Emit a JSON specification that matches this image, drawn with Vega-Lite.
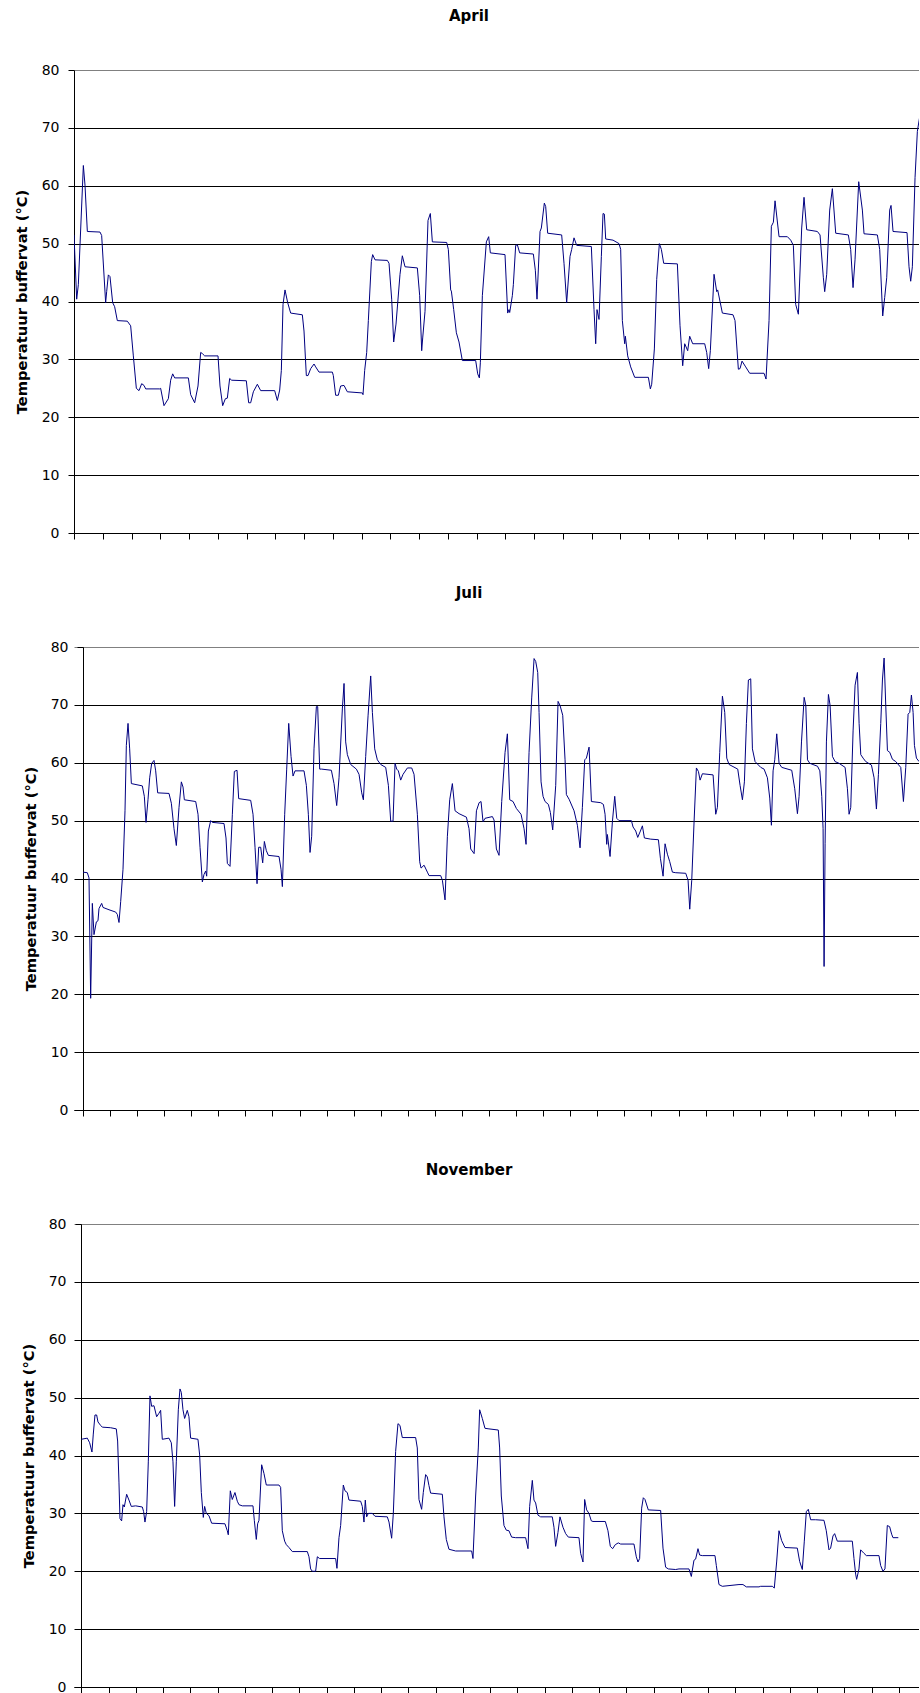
{
  "$schema": "https://vega.github.io/schema/vega-lite/v6.json",
  "padding": {"left": 14, "top": 9, "right": 0, "bottom": 0},
  "background": "white",
  "config": {
    "view": {"stroke": null},
    "font": "DejaVu Sans",
    "axis": {
      "domainColor": "#000", "tickColor": "#000", "labelColor": "#000", "titleColor": "#000",
      "labelFont": "DejaVu Sans", "labelFontSize": 14, "titleFont": "DejaVu Sans", "titleFontSize": 14.7,
      "titleFontWeight": "bold", "tickSize": 6, "domainWidth": 1, "tickWidth": 1, "gridWidth": 1
    },
    "title": {"font": "DejaVu Sans", "fontSize": 15, "fontWeight": "bold", "color": "#000", "anchor": "middle", "frame": "group", "baseline": "alphabetic", "offset": 39, "dx": -27.5}
  },
  "spacing": 46,
  "datasets": {
    "april": [
      {"d":0,"t":51.5},{"d":0.093,"t":40.4},{"d":0.151,"t":42.9},{"d":0.325,"t":63.5},{"d":0.383,"t":60.1},{"d":0.464,"t":52.1},{"d":0.904,"t":52.0},{"d":0.962,"t":51.4},{"d":1.101,"t":39.8},{"d":1.136,"t":41.7},{"d":1.194,"t":44.6},{"d":1.252,"t":44.3},{"d":1.345,"t":39.8},{"d":1.414,"t":39.1},{"d":1.507,"t":36.7},{"d":1.855,"t":36.6},{"d":1.971,"t":35.8},{"d":2.064,"t":30.6},{"d":2.168,"t":25.0},{"d":2.261,"t":24.6},{"d":2.354,"t":25.8},{"d":2.435,"t":25.5},{"d":2.493,"t":24.9},{"d":2.98,"t":24.9},{"d":3.014,"t":25.0},{"d":3.13,"t":22.0},{"d":3.281,"t":23.2},{"d":3.362,"t":26.4},{"d":3.432,"t":27.5},{"d":3.501,"t":26.8},{"d":3.977,"t":26.8},{"d":4.058,"t":23.9},{"d":4.197,"t":22.5},{"d":4.313,"t":25.4},{"d":4.406,"t":31.2},{"d":4.464,"t":31.0},{"d":4.545,"t":30.6},{"d":5.009,"t":30.6},{"d":5.078,"t":25.4},{"d":5.171,"t":22.0},{"d":5.264,"t":23.2},{"d":5.333,"t":23.3},{"d":5.414,"t":26.7},{"d":5.484,"t":26.4},{"d":5.994,"t":26.3},{"d":6.075,"t":22.5},{"d":6.145,"t":22.5},{"d":6.238,"t":24.4},{"d":6.377,"t":25.7},{"d":6.493,"t":24.6},{"d":6.98,"t":24.6},{"d":7.072,"t":22.9},{"d":7.154,"t":24.7},{"d":7.212,"t":28.1},{"d":7.27,"t":39.5},{"d":7.339,"t":42.0},{"d":7.432,"t":39.8},{"d":7.536,"t":38.0},{"d":7.942,"t":37.7},{"d":8.0,"t":34.9},{"d":8.081,"t":27.2},{"d":8.139,"t":27.2},{"d":8.232,"t":28.4},{"d":8.348,"t":29.2},{"d":8.406,"t":28.7},{"d":8.522,"t":27.8},{"d":8.986,"t":27.8},{"d":9.02,"t":27.2},{"d":9.101,"t":23.8},{"d":9.194,"t":23.8},{"d":9.275,"t":25.4},{"d":9.391,"t":25.5},{"d":9.507,"t":24.4},{"d":10.029,"t":24.2},{"d":10.052,"t":23.9},{"d":10.11,"t":28.1},{"d":10.18,"t":31.2},{"d":10.238,"t":36.7},{"d":10.342,"t":46.9},{"d":10.388,"t":48.1},{"d":10.47,"t":47.2},{"d":10.899,"t":47.1},{"d":10.957,"t":46.6},{"d":11.049,"t":40.4},{"d":11.119,"t":33.0},{"d":11.2,"t":36.1},{"d":11.339,"t":44.7},{"d":11.42,"t":47.9},{"d":11.513,"t":46.0},{"d":11.942,"t":45.8},{"d":12.023,"t":41.0},{"d":12.093,"t":31.5},{"d":12.128,"t":33.7},{"d":12.209,"t":38.3},{"d":12.313,"t":54.0},{"d":12.394,"t":55.2},{"d":12.464,"t":50.3},{"d":12.962,"t":50.2},{"d":13.02,"t":49.0},{"d":13.101,"t":42.0},{"d":13.125,"t":41.8},{"d":13.206,"t":38.6},{"d":13.299,"t":34.6},{"d":13.391,"t":33.0},{"d":13.507,"t":29.8},{"d":13.971,"t":29.8},{"d":14.041,"t":27.5},{"d":14.099,"t":26.8},{"d":14.133,"t":29.4},{"d":14.203,"t":41.0},{"d":14.342,"t":50.3},{"d":14.423,"t":51.2},{"d":14.481,"t":48.4},{"d":14.991,"t":48.1},{"d":15.084,"t":38.0},{"d":15.13,"t":38.6},{"d":15.154,"t":38.1},{"d":15.246,"t":41.0},{"d":15.281,"t":42.9},{"d":15.362,"t":49.7},{"d":15.42,"t":49.8},{"d":15.501,"t":48.4},{"d":15.977,"t":48.2},{"d":16.046,"t":45.4},{"d":16.104,"t":40.4},{"d":16.209,"t":52.1},{"d":16.255,"t":52.7},{"d":16.359,"t":57.0},{"d":16.406,"t":56.4},{"d":16.475,"t":51.8},{"d":16.962,"t":51.5},{"d":17.043,"t":46.6},{"d":17.136,"t":39.8},{"d":17.252,"t":47.8},{"d":17.31,"t":49.0},{"d":17.391,"t":51.0},{"d":17.484,"t":49.7},{"d":17.994,"t":49.5},{"d":18.087,"t":38.6},{"d":18.145,"t":32.7},{"d":18.191,"t":38.6},{"d":18.261,"t":36.9},{"d":18.342,"t":47.8},{"d":18.4,"t":55.2},{"d":18.446,"t":55.1},{"d":18.493,"t":50.8},{"d":18.748,"t":50.6},{"d":18.957,"t":50.0},{"d":19.014,"t":49.0},{"d":19.072,"t":36.7},{"d":19.154,"t":32.7},{"d":19.177,"t":34.0},{"d":19.258,"t":30.6},{"d":19.362,"t":28.7},{"d":19.501,"t":26.9},{"d":19.977,"t":26.9},{"d":20.046,"t":24.9},{"d":20.093,"t":25.7},{"d":20.186,"t":31.8},{"d":20.267,"t":43.8},{"d":20.359,"t":50.0},{"d":20.429,"t":49.0},{"d":20.51,"t":46.6},{"d":20.986,"t":46.5},{"d":21.078,"t":35.8},{"d":21.171,"t":28.9},{"d":21.241,"t":32.7},{"d":21.345,"t":31.5},{"d":21.414,"t":34.0},{"d":21.519,"t":32.7},{"d":21.936,"t":32.7},{"d":22.006,"t":31.2},{"d":22.075,"t":28.4},{"d":22.133,"t":31.5},{"d":22.261,"t":44.7},{"d":22.354,"t":41.7},{"d":22.388,"t":42.0},{"d":22.551,"t":38.0},{"d":22.922,"t":37.7},{"d":22.991,"t":36.7},{"d":23.107,"t":28.3},{"d":23.165,"t":28.4},{"d":23.235,"t":29.7},{"d":23.362,"t":28.7},{"d":23.501,"t":27.6},{"d":24.0,"t":27.6},{"d":24.07,"t":26.6},{"d":24.174,"t":36.7},{"d":24.255,"t":53.0},{"d":24.325,"t":53.7},{"d":24.383,"t":57.4},{"d":24.522,"t":51.2},{"d":24.812,"t":51.2},{"d":24.928,"t":50.6},{"d":25.02,"t":49.7},{"d":25.101,"t":39.5},{"d":25.194,"t":37.8},{"d":25.31,"t":52.7},{"d":25.391,"t":58.0},{"d":25.484,"t":52.4},{"d":25.855,"t":52.1},{"d":25.948,"t":51.5},{"d":26.064,"t":44.1},{"d":26.11,"t":41.7},{"d":26.18,"t":44.7},{"d":26.284,"t":55.8},{"d":26.377,"t":59.5},{"d":26.493,"t":51.8},{"d":26.933,"t":51.5},{"d":27.014,"t":49.0},{"d":27.096,"t":42.4},{"d":27.165,"t":47.2},{"d":27.293,"t":60.7},{"d":27.42,"t":55.8},{"d":27.478,"t":51.7},{"d":27.942,"t":51.5},{"d":28.023,"t":49.0},{"d":28.128,"t":37.5},{"d":28.197,"t":40.7},{"d":28.267,"t":44.1},{"d":28.371,"t":55.8},{"d":28.417,"t":56.6},{"d":28.487,"t":52.1},{"d":28.974,"t":51.9},{"d":29.043,"t":46.0},{"d":29.101,"t":43.5},{"d":29.159,"t":46.0},{"d":29.252,"t":61.4},{"d":29.333,"t":69.4},{"d":29.391,"t":71.2},{"d":29.45,"t":73.0}
    ],
    "juli": [
      {"d":0,"t":41.1},{"d":0.16,"t":41.0},{"d":0.222,"t":40.1},{"d":0.283,"t":19.3},{"d":0.345,"t":35.7},{"d":0.406,"t":30.3},{"d":0.493,"t":32.5},{"d":0.554,"t":32.7},{"d":0.591,"t":34.8},{"d":0.69,"t":35.7},{"d":0.739,"t":35.0},{"d":0.961,"t":34.6},{"d":1.207,"t":34.2},{"d":1.268,"t":33.8},{"d":1.33,"t":32.4},{"d":1.392,"t":36.0},{"d":1.478,"t":41.6},{"d":1.552,"t":51.7},{"d":1.601,"t":63.0},{"d":1.663,"t":66.8},{"d":1.724,"t":62.4},{"d":1.786,"t":56.4},{"d":2.192,"t":56.0},{"d":2.266,"t":54.2},{"d":2.328,"t":49.7},{"d":2.401,"t":53.6},{"d":2.463,"t":57.4},{"d":2.537,"t":59.9},{"d":2.623,"t":60.4},{"d":2.685,"t":58.6},{"d":2.759,"t":54.8},{"d":3.177,"t":54.7},{"d":3.264,"t":53.0},{"d":3.362,"t":48.6},{"d":3.448,"t":45.7},{"d":3.547,"t":52.3},{"d":3.633,"t":56.7},{"d":3.695,"t":55.8},{"d":3.744,"t":53.6},{"d":4.163,"t":53.3},{"d":4.249,"t":51.1},{"d":4.323,"t":45.4},{"d":4.409,"t":39.4},{"d":4.47,"t":40.7},{"d":4.532,"t":41.3},{"d":4.569,"t":40.4},{"d":4.631,"t":48.2},{"d":4.717,"t":50.0},{"d":4.778,"t":49.7},{"d":5.209,"t":49.5},{"d":5.283,"t":47.0},{"d":5.333,"t":42.6},{"d":5.431,"t":42.1},{"d":5.517,"t":51.1},{"d":5.591,"t":58.5},{"d":5.69,"t":58.7},{"d":5.751,"t":53.8},{"d":6.195,"t":53.5},{"d":6.281,"t":51.1},{"d":6.355,"t":45.4},{"d":6.429,"t":39.1},{"d":6.49,"t":45.4},{"d":6.564,"t":45.4},{"d":6.638,"t":42.7},{"d":6.7,"t":46.4},{"d":6.773,"t":44.8},{"d":6.847,"t":44.0},{"d":7.241,"t":43.8},{"d":7.315,"t":41.6},{"d":7.365,"t":38.6},{"d":7.451,"t":51.1},{"d":7.525,"t":58.9},{"d":7.599,"t":66.8},{"d":7.685,"t":61.1},{"d":7.759,"t":57.7},{"d":7.833,"t":58.6},{"d":8.165,"t":58.6},{"d":8.251,"t":56.1},{"d":8.325,"t":51.1},{"d":8.387,"t":44.5},{"d":8.448,"t":47.3},{"d":8.534,"t":62.4},{"d":8.621,"t":69.7},{"d":8.67,"t":69.7},{"d":8.744,"t":58.9},{"d":8.818,"t":58.9},{"d":9.175,"t":58.7},{"d":9.273,"t":56.4},{"d":9.372,"t":52.6},{"d":9.458,"t":57.4},{"d":9.581,"t":69.3},{"d":9.643,"t":73.7},{"d":9.704,"t":63.6},{"d":9.766,"t":61.4},{"d":9.889,"t":59.7},{"d":10.099,"t":58.9},{"d":10.197,"t":58.0},{"d":10.296,"t":54.8},{"d":10.357,"t":53.6},{"d":10.443,"t":61.1},{"d":10.53,"t":68.1},{"d":10.628,"t":75.0},{"d":10.69,"t":68.7},{"d":10.776,"t":62.4},{"d":10.874,"t":60.5},{"d":10.998,"t":59.7},{"d":11.182,"t":59.2},{"d":11.281,"t":56.1},{"d":11.367,"t":49.9},{"d":11.453,"t":49.9},{"d":11.527,"t":59.9},{"d":11.589,"t":58.9},{"d":11.65,"t":58.6},{"d":11.736,"t":57.0},{"d":11.823,"t":58.0},{"d":11.983,"t":59.1},{"d":12.143,"t":59.1},{"d":12.229,"t":58.0},{"d":12.352,"t":51.1},{"d":12.438,"t":42.9},{"d":12.488,"t":41.8},{"d":12.599,"t":42.3},{"d":12.722,"t":41.1},{"d":12.783,"t":40.5},{"d":13.214,"t":40.5},{"d":13.276,"t":39.7},{"d":13.374,"t":36.3},{"d":13.461,"t":47.3},{"d":13.547,"t":53.6},{"d":13.645,"t":56.4},{"d":13.744,"t":51.7},{"d":13.892,"t":51.2},{"d":14.163,"t":50.6},{"d":14.261,"t":48.6},{"d":14.323,"t":45.1},{"d":14.448,"t":44.3},{"d":14.534,"t":51.7},{"d":14.633,"t":53.1},{"d":14.704,"t":53.3},{"d":14.778,"t":49.8},{"d":14.852,"t":50.4},{"d":15.123,"t":50.7},{"d":15.185,"t":50.1},{"d":15.271,"t":45.1},{"d":15.369,"t":44.0},{"d":15.468,"t":53.3},{"d":15.591,"t":61.8},{"d":15.677,"t":65.0},{"d":15.764,"t":53.6},{"d":15.887,"t":53.3},{"d":16.01,"t":52.1},{"d":16.182,"t":51.1},{"d":16.293,"t":48.6},{"d":16.367,"t":45.9},{"d":16.478,"t":61.8},{"d":16.576,"t":71.2},{"d":16.663,"t":78.0},{"d":16.724,"t":77.5},{"d":16.798,"t":75.6},{"d":16.847,"t":68.7},{"d":16.921,"t":56.7},{"d":16.995,"t":54.2},{"d":17.069,"t":53.3},{"d":17.192,"t":52.8},{"d":17.266,"t":51.4},{"d":17.352,"t":48.4},{"d":17.463,"t":56.1},{"d":17.549,"t":70.6},{"d":17.623,"t":69.9},{"d":17.722,"t":68.2},{"d":17.808,"t":60.5},{"d":17.857,"t":54.5},{"d":17.956,"t":53.7},{"d":18.14,"t":51.7},{"d":18.264,"t":49.2},{"d":18.362,"t":45.3},{"d":18.448,"t":52.3},{"d":18.534,"t":60.5},{"d":18.596,"t":60.8},{"d":18.695,"t":62.7},{"d":18.781,"t":53.3},{"d":19.126,"t":53.1},{"d":19.224,"t":52.8},{"d":19.286,"t":51.1},{"d":19.347,"t":45.9},{"d":19.372,"t":47.6},{"d":19.47,"t":43.8},{"d":19.557,"t":49.8},{"d":19.643,"t":54.2},{"d":19.717,"t":50.4},{"d":19.803,"t":50.0},{"d":20.259,"t":50.0},{"d":20.32,"t":48.9},{"d":20.419,"t":48.2},{"d":20.493,"t":47.1},{"d":20.591,"t":48.2},{"d":20.665,"t":49.1},{"d":20.739,"t":47.0},{"d":20.973,"t":46.8},{"d":21.256,"t":46.7},{"d":21.33,"t":43.5},{"d":21.429,"t":40.4},{"d":21.502,"t":46.0},{"d":21.589,"t":44.2},{"d":21.675,"t":42.9},{"d":21.773,"t":41.1},{"d":21.897,"t":41.0},{"d":22.266,"t":40.9},{"d":22.352,"t":39.7},{"d":22.414,"t":34.7},{"d":22.488,"t":39.7},{"d":22.574,"t":49.8},{"d":22.66,"t":59.1},{"d":22.734,"t":58.5},{"d":22.796,"t":57.0},{"d":22.882,"t":58.1},{"d":23.276,"t":57.9},{"d":23.374,"t":51.1},{"d":23.436,"t":52.3},{"d":23.522,"t":61.8},{"d":23.621,"t":71.5},{"d":23.707,"t":68.7},{"d":23.781,"t":60.8},{"d":23.867,"t":59.7},{"d":24.187,"t":58.9},{"d":24.273,"t":56.1},{"d":24.36,"t":53.6},{"d":24.433,"t":56.7},{"d":24.507,"t":66.8},{"d":24.581,"t":74.3},{"d":24.667,"t":74.5},{"d":24.729,"t":62.4},{"d":24.828,"t":60.2},{"d":25.037,"t":59.2},{"d":25.16,"t":58.9},{"d":25.283,"t":57.4},{"d":25.369,"t":53.9},{"d":25.431,"t":49.2},{"d":25.493,"t":58.6},{"d":25.554,"t":60.5},{"d":25.628,"t":65.0},{"d":25.714,"t":59.9},{"d":25.813,"t":59.2},{"d":26.182,"t":58.7},{"d":26.293,"t":55.5},{"d":26.392,"t":51.2},{"d":26.453,"t":54.2},{"d":26.542,"t":63.6},{"d":26.64,"t":71.3},{"d":26.702,"t":69.9},{"d":26.764,"t":60.5},{"d":26.85,"t":59.9},{"d":27.133,"t":59.4},{"d":27.219,"t":58.6},{"d":27.291,"t":54.2},{"d":27.34,"t":48.6},{"d":27.377,"t":24.8},{"d":27.414,"t":46.0},{"d":27.463,"t":63.6},{"d":27.537,"t":71.8},{"d":27.599,"t":69.9},{"d":27.685,"t":61.1},{"d":27.783,"t":60.2},{"d":27.931,"t":59.9},{"d":28.153,"t":59.2},{"d":28.239,"t":55.5},{"d":28.3,"t":51.1},{"d":28.362,"t":52.3},{"d":28.448,"t":65.5},{"d":28.522,"t":73.4},{"d":28.608,"t":75.6},{"d":28.67,"t":66.8},{"d":28.732,"t":61.4},{"d":28.818,"t":60.8},{"d":28.916,"t":60.2},{"d":29.126,"t":59.6},{"d":29.224,"t":57.4},{"d":29.31,"t":52.0},{"d":29.384,"t":58.0},{"d":29.47,"t":66.8},{"d":29.532,"t":74.3},{"d":29.594,"t":78.1},{"d":29.655,"t":69.9},{"d":29.717,"t":62.1},{"d":29.803,"t":61.8},{"d":29.901,"t":60.6},{"d":30.025,"t":60.2},{"d":30.209,"t":59.2},{"d":30.308,"t":53.3},{"d":30.394,"t":59.2},{"d":30.48,"t":68.4},{"d":30.542,"t":68.7},{"d":30.603,"t":71.7},{"d":30.665,"t":68.7},{"d":30.714,"t":63.0},{"d":30.788,"t":60.8},{"d":30.887,"t":60.2},{"d":30.95,"t":60.0}
    ],
    "nov": [
      {"d":0,"t":42.8},{"d":0.22,"t":43.0},{"d":0.306,"t":42.2},{"d":0.391,"t":40.6},{"d":0.44,"t":43.7},{"d":0.502,"t":47.0},{"d":0.563,"t":47.0},{"d":0.612,"t":45.8},{"d":0.709,"t":45.2},{"d":0.771,"t":44.9},{"d":1.076,"t":44.8},{"d":1.284,"t":44.6},{"d":1.333,"t":42.5},{"d":1.382,"t":35.4},{"d":1.419,"t":29.1},{"d":1.48,"t":28.7},{"d":1.529,"t":31.5},{"d":1.578,"t":31.1},{"d":1.664,"t":33.3},{"d":1.749,"t":32.3},{"d":1.835,"t":31.2},{"d":1.994,"t":31.3},{"d":2.239,"t":31.1},{"d":2.287,"t":30.3},{"d":2.336,"t":28.5},{"d":2.398,"t":30.3},{"d":2.459,"t":38.9},{"d":2.52,"t":50.3},{"d":2.581,"t":48.5},{"d":2.667,"t":48.6},{"d":2.765,"t":46.7},{"d":2.85,"t":47.3},{"d":2.911,"t":47.8},{"d":2.972,"t":42.8},{"d":3.217,"t":43.0},{"d":3.303,"t":42.2},{"d":3.364,"t":38.9},{"d":3.425,"t":31.2},{"d":3.486,"t":38.9},{"d":3.56,"t":47.9},{"d":3.621,"t":51.5},{"d":3.67,"t":50.9},{"d":3.731,"t":47.9},{"d":3.792,"t":46.4},{"d":3.89,"t":47.8},{"d":3.951,"t":46.7},{"d":4.012,"t":43.0},{"d":4.281,"t":42.8},{"d":4.343,"t":40.1},{"d":4.404,"t":33.6},{"d":4.477,"t":29.3},{"d":4.526,"t":31.2},{"d":4.587,"t":30.0},{"d":4.685,"t":29.6},{"d":4.783,"t":28.3},{"d":5.272,"t":28.2},{"d":5.358,"t":27.0},{"d":5.394,"t":26.3},{"d":5.468,"t":33.9},{"d":5.541,"t":32.4},{"d":5.639,"t":33.6},{"d":5.725,"t":32.1},{"d":5.786,"t":31.5},{"d":5.908,"t":31.3},{"d":6.3,"t":31.3},{"d":6.349,"t":28.8},{"d":6.422,"t":25.5},{"d":6.471,"t":28.2},{"d":6.52,"t":28.8},{"d":6.618,"t":38.4},{"d":6.703,"t":36.9},{"d":6.789,"t":34.9},{"d":7.254,"t":34.9},{"d":7.315,"t":34.5},{"d":7.376,"t":27.0},{"d":7.462,"t":25.2},{"d":7.523,"t":24.6},{"d":7.621,"t":24.1},{"d":7.743,"t":23.4},{"d":8.294,"t":23.4},{"d":8.355,"t":22.5},{"d":8.416,"t":20.4},{"d":8.477,"t":20.0},{"d":8.599,"t":20.0},{"d":8.661,"t":22.5},{"d":8.746,"t":22.2},{"d":9.333,"t":22.2},{"d":9.382,"t":20.5},{"d":9.456,"t":25.8},{"d":9.517,"t":27.9},{"d":9.615,"t":34.9},{"d":9.676,"t":33.9},{"d":9.761,"t":33.6},{"d":9.823,"t":32.3},{"d":10.251,"t":32.1},{"d":10.312,"t":31.2},{"d":10.373,"t":28.5},{"d":10.422,"t":32.3},{"d":10.471,"t":29.4},{"d":10.532,"t":30.0},{"d":10.679,"t":30.0},{"d":10.777,"t":29.5},{"d":11.23,"t":29.4},{"d":11.291,"t":28.5},{"d":11.389,"t":25.7},{"d":11.45,"t":30.0},{"d":11.535,"t":40.7},{"d":11.621,"t":45.5},{"d":11.694,"t":45.2},{"d":11.78,"t":43.1},{"d":12.269,"t":43.1},{"d":12.33,"t":41.3},{"d":12.391,"t":32.4},{"d":12.489,"t":30.7},{"d":12.55,"t":33.6},{"d":12.636,"t":36.7},{"d":12.697,"t":36.3},{"d":12.758,"t":34.8},{"d":12.819,"t":33.5},{"d":13.248,"t":33.3},{"d":13.309,"t":29.4},{"d":13.394,"t":25.5},{"d":13.492,"t":23.8},{"d":13.737,"t":23.5},{"d":14.324,"t":23.5},{"d":14.373,"t":22.2},{"d":14.471,"t":33.0},{"d":14.569,"t":41.3},{"d":14.618,"t":47.9},{"d":14.716,"t":46.4},{"d":14.813,"t":44.7},{"d":14.96,"t":44.6},{"d":15.303,"t":44.4},{"d":15.352,"t":41.3},{"d":15.413,"t":33.0},{"d":15.511,"t":27.9},{"d":15.596,"t":27.1},{"d":15.694,"t":27.0},{"d":15.792,"t":25.9},{"d":15.939,"t":25.8},{"d":16.306,"t":25.8},{"d":16.392,"t":23.9},{"d":16.453,"t":31.2},{"d":16.551,"t":35.7},{"d":16.612,"t":32.3},{"d":16.673,"t":31.8},{"d":16.758,"t":29.7},{"d":16.856,"t":29.4},{"d":17.284,"t":29.4},{"d":17.346,"t":27.6},{"d":17.407,"t":24.3},{"d":17.492,"t":26.7},{"d":17.566,"t":29.4},{"d":17.676,"t":27.6},{"d":17.774,"t":26.5},{"d":17.872,"t":25.9},{"d":18.263,"t":25.8},{"d":18.324,"t":23.1},{"d":18.41,"t":21.6},{"d":18.471,"t":32.4},{"d":18.544,"t":30.6},{"d":18.63,"t":30.0},{"d":18.716,"t":28.7},{"d":18.777,"t":28.6},{"d":19.23,"t":28.6},{"d":19.327,"t":27.0},{"d":19.413,"t":24.3},{"d":19.498,"t":23.9},{"d":19.596,"t":24.6},{"d":19.706,"t":24.9},{"d":19.791,"t":24.7},{"d":20.281,"t":24.7},{"d":20.367,"t":22.5},{"d":20.428,"t":21.6},{"d":20.489,"t":22.2},{"d":20.563,"t":30.9},{"d":20.624,"t":32.7},{"d":20.685,"t":32.4},{"d":20.807,"t":30.6},{"d":21.26,"t":30.5},{"d":21.346,"t":24.0},{"d":21.443,"t":20.7},{"d":21.541,"t":20.4},{"d":21.81,"t":20.3},{"d":21.933,"t":20.4},{"d":22.3,"t":20.4},{"d":22.386,"t":19.1},{"d":22.483,"t":21.9},{"d":22.544,"t":22.1},{"d":22.63,"t":23.9},{"d":22.691,"t":22.8},{"d":22.789,"t":22.7},{"d":23.254,"t":22.7},{"d":23.303,"t":21.0},{"d":23.401,"t":17.7},{"d":23.523,"t":17.4},{"d":24.135,"t":17.7},{"d":24.281,"t":17.7},{"d":24.404,"t":17.3},{"d":24.869,"t":17.3},{"d":24.93,"t":17.4},{"d":25.358,"t":17.4},{"d":25.431,"t":17.1},{"d":25.517,"t":21.6},{"d":25.603,"t":27.0},{"d":25.7,"t":25.3},{"d":25.823,"t":24.1},{"d":26.275,"t":24.0},{"d":26.361,"t":21.7},{"d":26.459,"t":20.3},{"d":26.532,"t":25.2},{"d":26.606,"t":30.3},{"d":26.679,"t":30.7},{"d":26.765,"t":28.9},{"d":26.948,"t":28.9},{"d":27.254,"t":28.8},{"d":27.339,"t":27.0},{"d":27.437,"t":23.7},{"d":27.498,"t":24.0},{"d":27.584,"t":26.1},{"d":27.645,"t":26.5},{"d":27.743,"t":25.2},{"d":28.294,"t":25.2},{"d":28.355,"t":22.2},{"d":28.416,"t":19.5},{"d":28.453,"t":18.6},{"d":28.538,"t":20.4},{"d":28.599,"t":23.7},{"d":28.722,"t":23.1},{"d":28.808,"t":22.7},{"d":29.272,"t":22.7},{"d":29.333,"t":21.0},{"d":29.419,"t":20.0},{"d":29.492,"t":20.4},{"d":29.578,"t":27.9},{"d":29.664,"t":27.7},{"d":29.737,"t":26.4},{"d":29.786,"t":25.8},{"d":29.982,"t":25.8}
    ]
  },
  "vconcat": [
    {
      "title": {"text": "April"},
      "width": 845, "height": 463,
      "data": {"name": "april"},
      "mark": {"type": "line", "color": "#000080", "strokeWidth": 1, "clip": true},
      "encoding": {
        "x": {"field": "d", "type": "quantitative", "scale": {"domain": [0, 29.39], "nice": false, "zero": false},
              "axis": {"values": [0,1,2,3,4,5,6,7,8,9,10,11,12,13,14,15,16,17,18,19,20,21,22,23,24,25,26,27,28,29], "labels": false, "grid": false, "title": null}},
        "y": {"field": "t", "type": "quantitative", "scale": {"domain": [0, 80], "nice": false},
              "axis": {"values": [0,10,20,30,40,50,60,70,80], "title": "Temperatuur buffervat (°C)", "labelPadding": 9, "titlePadding": 12, "grid": true,
                       "gridColor": {"condition": {"test": "datum.value === 80", "value": "#808080"}, "value": "#000"}}}
      }
    },
    {
      "title": {"text": "Juli"},
      "width": 845, "height": 463,
      "data": {"name": "juli"},
      "mark": {"type": "line", "color": "#000080", "strokeWidth": 1, "clip": true},
      "encoding": {
        "x": {"field": "d", "type": "quantitative", "scale": {"domain": [-0.3325, 30.883], "nice": false, "zero": false},
              "axis": {"values": [0,1,2,3,4,5,6,7,8,9,10,11,12,13,14,15,16,17,18,19,20,21,22,23,24,25,26,27,28,29,30], "labels": false, "grid": false, "title": null}},
        "y": {"field": "t", "type": "quantitative", "scale": {"domain": [0, 80], "nice": false},
              "axis": {"values": [0,10,20,30,40,50,60,70,80], "title": "Temperatuur buffervat (°C)", "labelPadding": 9, "titlePadding": 12, "offset": -9, "grid": true,
                       "gridColor": {"condition": {"test": "datum.value === 80", "value": "#808080"}, "value": "#000"}}}
      }
    },
    {
      "title": {"text": "November"},
      "width": 845, "height": 463,
      "data": {"name": "nov"},
      "mark": {"type": "line", "color": "#000080", "strokeWidth": 1, "clip": true},
      "encoding": {
        "x": {"field": "d", "type": "quantitative", "scale": {"domain": [-0.268, 30.741], "nice": false, "zero": false},
              "axis": {"values": [0,1,2,3,4,5,6,7,8,9,10,11,12,13,14,15,16,17,18,19,20,21,22,23,24,25,26,27,28,29,30], "labels": false, "grid": false, "title": null}},
        "y": {"field": "t", "type": "quantitative", "scale": {"domain": [0, 80], "nice": false},
              "axis": {"values": [0,10,20,30,40,50,60,70,80], "title": "Temperatuur buffervat (°C)", "labelPadding": 9, "titlePadding": 12, "offset": -7, "grid": true,
                       "gridColor": {"condition": {"test": "datum.value === 80", "value": "#808080"}, "value": "#000"}}}
      }
    }
  ]
}
